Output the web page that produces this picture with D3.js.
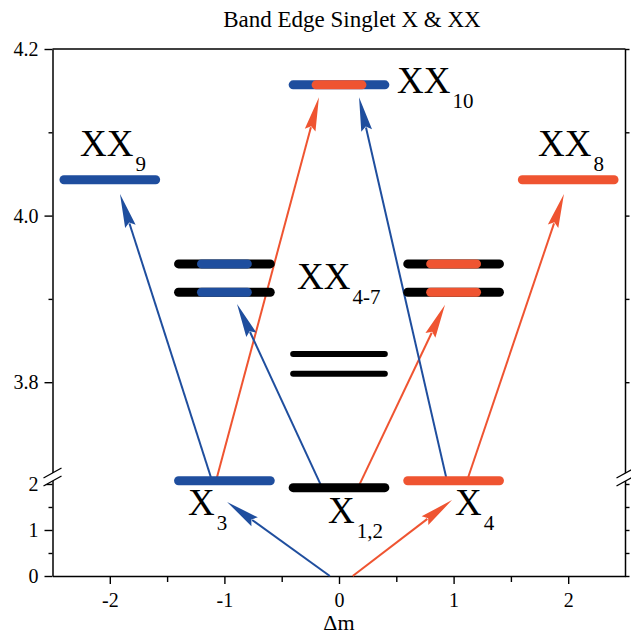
<!DOCTYPE html>
<html><head><meta charset="utf-8">
<script src="https://cdn.jsdelivr.net/npm/d3@7"></script>
<style>body{margin:0;background:#fff} svg{display:block}</style>
</head><body><svg id="c" width="631" height="637"></svg>
<script>
// ---------- data ----------
const chartTitle = "Band Edge Singlet X & XX";
const xLabel = "Δm";
const xTicks = [-2, -1, 0, 1, 2];
const xMinorTicks = [-1.5, -0.5, 0.5, 1.5];
const yUpperTicks = [3.8, 4.0, 4.2];
const yUpperMinor = [3.9, 4.1];
const yLowerTicks = [0, 1, 2];
const yLowerMinor = [0.5, 1.5];

// energy levels: Δm, energy, polarization of outer bar, inner bar
const levelDm    = [0, -2, 2, -1, -1, 1, 1, 0, 0, -1, 0, 1];
const levelE     = [4.157, 4.043, 4.043, 3.942, 3.908, 3.942, 3.908, 3.834, 3.810, 2.07, 1.92, 2.07];
const levelOuter = ["σ+", "σ+", "σ−", "lin", "lin", "lin", "lin", "dark", "dark", "σ+", "lin", "σ−"];
const levelInner = ["σ−", null, null, "σ+", "σ+", "σ−", "σ−", null, null, null, null, null];

// transitions (arrows)
const transDm0 = [-0.08, 0.12, -1.108, -1.073, -0.148, 0.166, 0.942, 1.117];
const transE0  = [0, 0, 2.07, 2.07, 1.92, 1.92, 2.07, 2.07];
const transDm1 = [-0.977, 0.986, -1.911, -0.175, -0.89, 0.925, 0.175, 1.963];
const transE1  = [1.61, 1.65, 4.026, 4.142, 3.894, 3.893, 4.142, 4.026];
const transPol = ["σ+", "σ−", "σ+", "σ−", "σ+", "σ−", "σ+", "σ−"];

// state labels
const labelMain = ["XX", "XX", "XX", "XX", "X", "X", "X"];
const labelSub  = ["10", "9", "8", "4-7", "3", "1,2", "4"];
const labelDm   = [0.506, -2.26, 1.737, -0.366, -1.318, -0.096, 1.012];
const labelE    = [4.147, 4.072, 4.072, 3.912, 1.326, 1.152, 1.326];

// ---------- drawing ----------
const svg = d3.select("#c");
const FONT = "'Liberation Serif','Times New Roman',serif";
const colors = {"σ+": "#1f4e9e", "σ−": "#ef5431", "lin": "#000", "dark": "#000"};
const widths = {"σ+": 9, "σ−": 9, "lin": 9, "dark": 6};

const pL = 52.5, pR = 625.5, pT = 49, pB = 576, brk = 478;
const x = d3.scaleLinear().domain([-2.5, 2.5]).range([pL, pR]);
const yU = d3.scaleLinear().domain([3.685, 4.2]).range([brk, pT]);
const yL = d3.scaleLinear().domain([0, 2.13]).range([pB, brk]);
const y = v => v > 3 ? yU(v) : yL(v);

// title
svg.append("text").attr("x", 352).attr("y", 27).attr("text-anchor", "middle")
  .style("font-family", FONT).style("font-size", "23px").text(chartTitle);

// frame
const frame = svg.append("g").attr("stroke", "#000").attr("stroke-width", 1.5).attr("fill", "none");
frame.append("line").attr("x1", pL).attr("x2", pR).attr("y1", pT).attr("y2", pT);
frame.append("line").attr("x1", pR).attr("x2", pR).attr("y1", pT).attr("y2", pB);

function styleAxis(g) {
  g.select(".domain").attr("stroke-width", 1.5);
  g.selectAll(".tick line").attr("stroke-width", 1.4);
  g.selectAll("text").style("font-family", FONT).style("font-size", "20px").attr("fill", "#000");
}

// bottom axis
svg.append("g").attr("transform", `translate(0,${pB})`)
  .call(d3.axisBottom(x).tickValues(xTicks).tickSize(8).tickPadding(9).tickSizeOuter(0)
    .tickFormat(d => d < 0 ? "-" + Math.abs(d) : d))
  .call(styleAxis);
svg.append("g").attr("transform", `translate(0,${pB})`)
  .call(d3.axisBottom(x).tickValues(xMinorTicks).tickSize(6).tickFormat("").tickSizeOuter(0))
  .call(g => g.select(".domain").remove()).call(styleAxis);

// left axes
svg.append("g").attr("transform", `translate(${pL},0)`)
  .call(d3.axisLeft(yU).tickValues(yUpperTicks).tickSize(8).tickPadding(6).tickSizeOuter(0).tickFormat(d3.format(".1f")))
  .call(styleAxis);
svg.append("g").attr("transform", `translate(${pL},0)`)
  .call(d3.axisLeft(yU).tickValues(yUpperMinor).tickSize(4).tickFormat("").tickSizeOuter(0))
  .call(g => g.select(".domain").remove()).call(styleAxis);
svg.append("g").attr("transform", `translate(${pL},0)`)
  .call(d3.axisLeft(yL).tickValues(yLowerTicks).tickSize(8).tickPadding(6).tickSizeOuter(0).tickFormat(d3.format("d")))
  .call(styleAxis);
svg.append("g").attr("transform", `translate(${pL},0)`)
  .call(d3.axisLeft(yL).tickValues(yLowerMinor).tickSize(4).tickFormat("").tickSizeOuter(0))
  .call(g => g.select(".domain").remove()).call(styleAxis);

// right axes (ticks only, outward)
[[yU, yUpperTicks.concat(yUpperMinor)], [yL, yLowerTicks.concat(yLowerMinor)]].forEach(([sc, tv]) => {
  svg.append("g").attr("transform", `translate(${pR},0)`)
    .call(d3.axisRight(sc).tickValues(tv).tickSize(4).tickFormat("").tickSizeOuter(0))
    .call(g => g.select(".domain").remove()).call(styleAxis);
});

// axis breaks
[pL, pR].forEach(ax => {
  const g = svg.append("g");
  g.append("polygon")
    .attr("points", `${ax-9},${brk+8} ${ax+9},${brk-2} ${ax+9},${brk-10} ${ax-9},${brk}`)
    .attr("fill", "#fff");
  g.append("line").attr("x1", ax-9).attr("y1", brk+8).attr("x2", ax+9).attr("y2", brk-2)
    .attr("stroke", "#000").attr("stroke-width", 1.3);
  g.append("line").attr("x1", ax-9).attr("y1", brk).attr("x2", ax+9).attr("y2", brk-10)
    .attr("stroke", "#000").attr("stroke-width", 1.3);
});

// x label
svg.append("text").attr("x", x(0)).attr("y", 630).attr("text-anchor", "middle")
  .style("font-family", FONT).style("font-size", "22px").text(xLabel);

// transitions
const ARW_LEN = 34, ARW_HW = 5.5;
const tg = svg.append("g");
transPol.forEach((p, i) => {
  const x0 = x(transDm0[i]), y0 = y(transE0[i]), x1 = x(transDm1[i]), y1 = y(transE1[i]);
  const L = Math.hypot(x1 - x0, y1 - y0), ux = (x1 - x0) / L, uy = (y1 - y0) / L;
  const bx = x1 - ux * ARW_LEN, by = y1 - uy * ARW_LEN;
  tg.append("line").attr("x1", x0).attr("y1", y0).attr("x2", bx + ux * 3).attr("y2", by + uy * 3)
    .attr("stroke", colors[p]).attr("stroke-width", 2);
  tg.append("polygon")
    .attr("points", `${x1},${y1} ${bx - uy * ARW_HW},${by + ux * ARW_HW} ${bx + ux*4},${by + uy*4} ${bx + uy * ARW_HW},${by - ux * ARW_HW}`)
    .attr("fill", colors[p]);
});

// levels
const HALF = 0.40, INNER = 0.20;
const lg = svg.append("g").attr("stroke-linecap", "round");
levelDm.forEach((dm, i) => {
  const o = levelOuter[i];
  lg.append("line").attr("x1", x(dm - HALF)).attr("x2", x(dm + HALF))
    .attr("y1", y(levelE[i])).attr("y2", y(levelE[i]))
    .attr("stroke", colors[o]).attr("stroke-width", widths[o]);
  if (levelInner[i]) {
    lg.append("line").attr("x1", x(dm - INNER)).attr("x2", x(dm + INNER))
      .attr("y1", y(levelE[i])).attr("y2", y(levelE[i]))
      .attr("stroke", colors[levelInner[i]]).attr("stroke-width", widths[o]);
  }
});

// labels
labelMain.forEach((m, i) => {
  const t = svg.append("text").attr("x", x(labelDm[i])).attr("y", y(labelE[i]))
    .style("font-family", FONT).style("font-size", "37px").attr("fill", "#000");
  t.append("tspan").text(m);
  t.append("tspan").attr("dx", 2).attr("dy", 15).style("font-size", "21px").text(labelSub[i]);
});
</script>
</body></html>
